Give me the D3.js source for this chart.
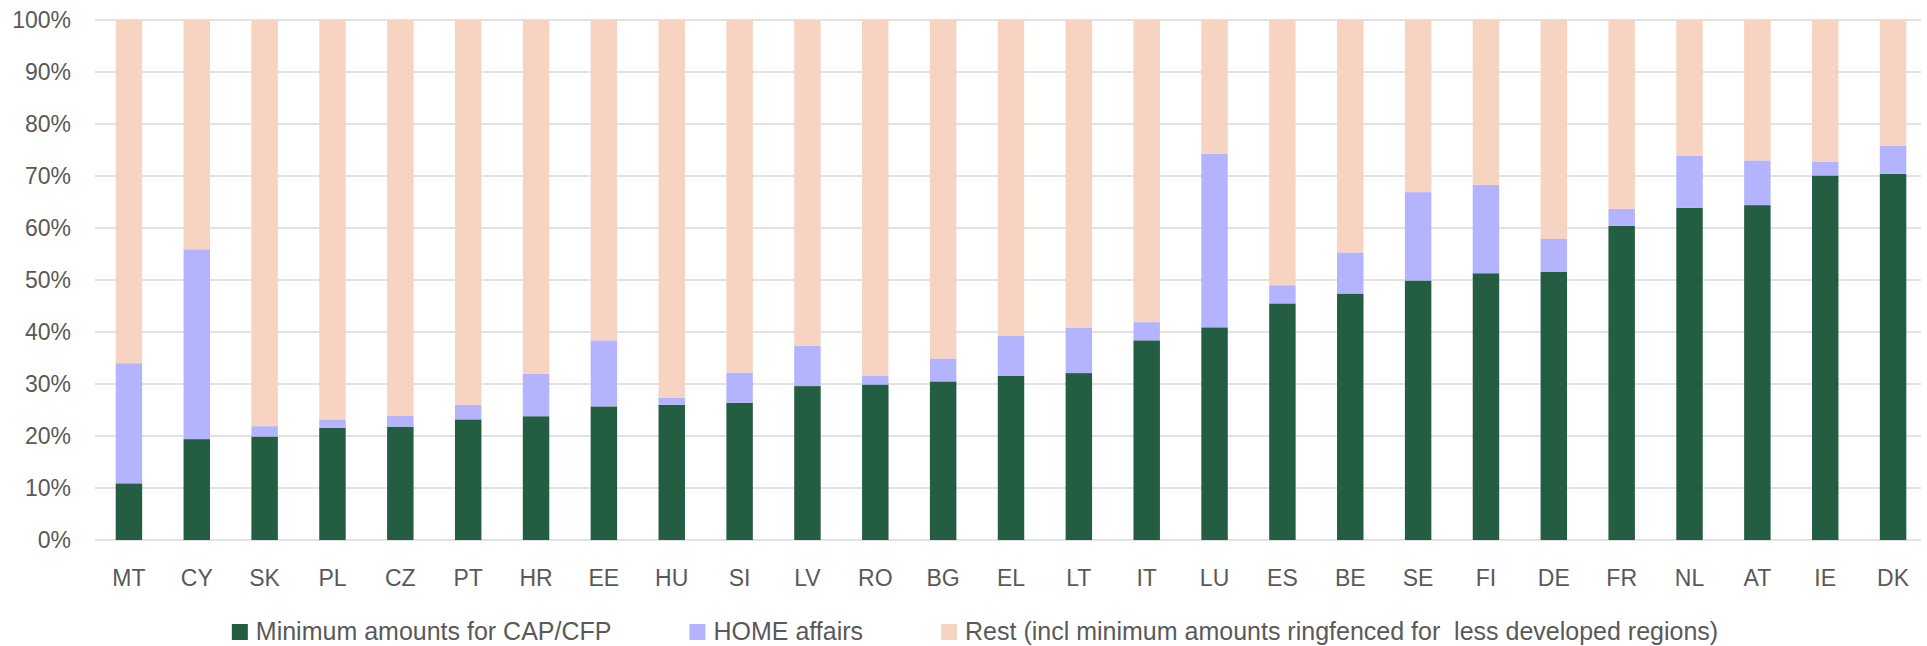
<!DOCTYPE html>
<html>
<head>
<meta charset="utf-8">
<script src="https://cdn.jsdelivr.net/npm/d3@7"></script>
<style>
  html, body { margin: 0; padding: 0; background: #fff; }
  svg { display: block; font-family: "Liberation Sans", Arial, sans-serif; }
  .grid line { stroke: #d9d9d9; stroke-width: 1.5; }
  .tick-label { fill: #595959; font-size: 23px; }
  .legend text { fill: #595959; font-size: 25px; white-space: pre; }
</style>
</head>
<body>
<svg id="chart"></svg>
<script>
const width = 1927;
const height = 646;
const margin = { top: 20, right: 0, bottom: 106, left: 95 };

// values, in percent
const countries = ["MT", "CY", "SK", "PL", "CZ", "PT", "HR", "EE", "HU", "SI", "LV", "RO", "BG", "EL",
    "LT", "IT", "LU", "ES", "BE", "SE", "FI", "DE", "FR", "NL", "AT", "IE", "DK"];
const capCfp = [10.9, 19.4, 19.9, 21.6, 21.8, 23.2, 23.8, 25.7, 26.0, 26.4, 29.6, 29.9, 30.5, 31.6,
    32.1, 38.4, 40.9, 45.5, 47.4, 49.9, 51.3, 51.6, 60.4, 63.9, 64.4, 70.1, 70.4];
const homeAffairs = [23.1, 36.5, 2.0, 1.6, 2.1, 2.8, 8.2, 12.7, 1.4, 5.8, 7.8, 1.7, 4.4, 7.7,
    8.7, 3.5, 33.4, 3.5, 7.9, 17.0, 17.0, 6.3, 3.3, 10.0, 8.6, 2.6, 5.4];
const rest = [66.0, 44.1, 78.1, 76.8, 76.1, 74.0, 68.0, 61.6, 72.6, 67.8, 62.6, 68.4, 65.1, 60.7,
    59.2, 58.1, 25.7, 51.0, 44.7, 33.1, 31.7, 42.1, 36.3, 26.1, 27.0, 27.3, 24.2];
const yTicks = [0, 10, 20, 30, 40, 50, 60, 70, 80, 90, 100];

const seriesKeys = ["cap", "home", "rest"];
const seriesNames = ["Minimum amounts for CAP/CFP", "HOME affairs",
    "Rest (incl minimum amounts ringfenced for  less developed regions)"];
const seriesColors = ["#235e42", "#b4b4fe", "#f7d3c1"];

const rows = countries.map((c, i) => ({
    country: c,
    cap: capCfp[i],
    home: homeAffairs[i],
    rest: rest[i]
}));

const svg = d3.select("#chart")
    .attr("width", width)
    .attr("height", height);

const x = d3.scaleBand()
    .domain(countries)
    .range([margin.left, width - margin.right])
    .paddingInner(0.61)
    .paddingOuter(0.305);

const y = d3.scaleLinear()
    .domain([0, 100])
    .range([height - margin.bottom, margin.top]);

// gridlines
svg.append("g")
    .attr("class", "grid")
    .selectAll("line")
    .data(yTicks)
    .enter().append("line")
    .attr("x1", margin.left)
    .attr("x2", width - 6)
    .attr("y1", d => y(d))
    .attr("y2", d => y(d));

// y labels
svg.append("g")
    .selectAll("text")
    .data(yTicks)
    .enter().append("text")
    .attr("class", "tick-label")
    .attr("x", 71)
    .attr("y", d => y(d))
    .attr("dy", "0.34em")
    .attr("text-anchor", "end")
    .text(d => d + "%");

// stacked bars
const stacked = d3.stack().keys(seriesKeys)(rows);
svg.append("g")
    .selectAll("g")
    .data(stacked)
    .enter().append("g")
    .attr("fill", (d, i) => seriesColors[i])
    .selectAll("rect")
    .data(d => d)
    .enter().append("rect")
    .attr("x", d => x(d.data.country))
    .attr("width", x.bandwidth())
    .attr("y", d => y(d[1]))
    .attr("height", d => y(d[0]) - y(d[1]));

// x labels
svg.append("g")
    .selectAll("text")
    .data(countries)
    .enter().append("text")
    .attr("class", "tick-label")
    .attr("x", d => x(d) + x.bandwidth() / 2)
    .attr("y", 586)
    .attr("text-anchor", "middle")
    .text(d => d);

// legend
const legend = svg.append("g").attr("class", "legend");
const items = legend.selectAll("g")
    .data(seriesNames)
    .enter().append("g");
items.append("rect")
    .attr("width", 16)
    .attr("height", 16)
    .attr("y", 624)
    .attr("fill", (d, i) => seriesColors[i]);
items.append("text")
    .attr("x", 24)
    .attr("y", 640)
    .text(d => d);

let offset = 0;
const widths = [];
items.each(function() {
    const w = 24 + this.querySelector("text").getComputedTextLength();
    widths.push(w);
});
const gap = 78;
const total = d3.sum(widths) + gap * (widths.length - 1);
const legendStart = 975 - total / 2;
items.attr("transform", (d, i) => {
    const tx = legendStart + offset;
    offset += widths[i] + gap;
    return `translate(${tx},0)`;
});
</script>
</body>
</html>
